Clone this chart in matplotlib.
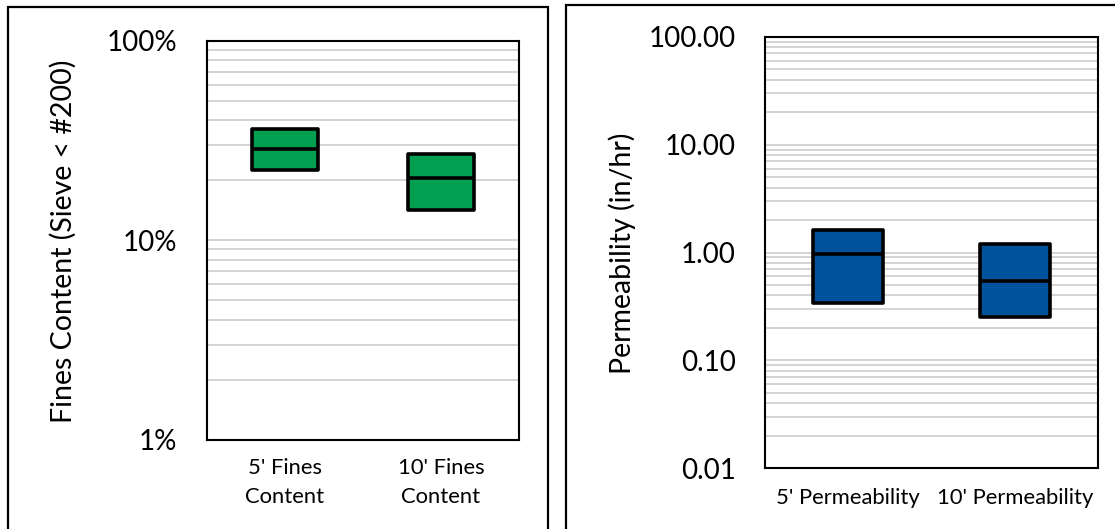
import matplotlib
matplotlib.use("Agg")
import matplotlib.pyplot as plt
from matplotlib.patches import Rectangle
from matplotlib.ticker import FixedLocator, LogLocator, NullFormatter

plt.rcParams['font.family'] = ['Lato', 'DejaVu Sans']

# Data
fines_categories = ["5' Fines\nContent", "10' Fines\nContent"]
fines_low = [22.4, 14.2]
fines_median = [28.7, 20.6]
fines_high = [36.0, 27.0]
fines_ticks = [1, 10, 100]
fines_ticklabels = ["1%", "10%", "100%"]

perm_categories = ["5' Permeability", "10' Permeability"]
perm_low = [0.343, 0.251]
perm_median = [0.963, 0.541]
perm_high = [1.62, 1.21]
perm_ticks = [0.01, 0.1, 1, 10, 100]
perm_ticklabels = ["0.01", "0.10", "1.00", "10.00", "100.00"]

W, H = 1115, 529
fig = plt.figure(figsize=(W / 100, H / 100), dpi=100)

def px_rect(x0, y0, x1, y1):
    return [x0 / W, 1 - y1 / H, (x1 - x0) / W, (y1 - y0) / H]

# panel frames
fig.patches.append(Rectangle((8.3 / W, 1 - 540 / H), (548.3 - 8.3) / W, (540 - 7.3) / H,
                             transform=fig.transFigure, fill=False, edgecolor='black', linewidth=1.6))
fig.patches.append(Rectangle((565.7 / W, 1 - 540 / H), (1130 - 565.7) / W, (540 - 4.7) / H,
                             transform=fig.transFigure, fill=False, edgecolor='black', linewidth=1.6))

def draw(ax, cats, low, med, high, ticks, ticklabels, ylim, color, ylabel, label_px, catsize, catpad):
    xs = list(range(len(cats)))
    ax.set_yscale('log')
    ax.set_ylim(*ylim)
    ax.set_xlim(-0.5, len(cats) - 0.5)
    ax.yaxis.set_major_locator(FixedLocator(ticks))
    ax.yaxis.set_minor_locator(LogLocator(base=10, subs=range(2, 10)))
    ax.yaxis.set_minor_formatter(NullFormatter())
    ax.set_yticklabels(ticklabels)
    ax.grid(True, which='both', axis='y', color='#d0d0d0', linewidth=1.3)
    ax.set_axisbelow(True)
    heights = [h - l for h, l in zip(high, low)]
    bw = 0.42
    ax.bar(xs, heights, bottom=low, width=bw, color=color, edgecolor='black',
           linewidth=2.6, joinstyle='round', zorder=3)
    ax.hlines(med, [x - bw / 2 for x in xs], [x + bw / 2 for x in xs], colors='black',
              linewidth=2.6, zorder=4)
    ax.set_xticks(xs)
    ax.set_xticklabels(cats, fontsize=catsize, linespacing=1.55)
    ax.tick_params(axis='x', length=0, pad=catpad)
    ax.tick_params(axis='y', which='both', length=0, pad=21, labelsize=20)
    for s in ax.spines.values():
        s.set_linewidth(1.5)
        s.set_color('black')
    fig.text(label_px[0] / W, 1 - label_px[1] / H, ylabel, rotation=90, fontsize=20.5,
             ha='center', va='center')

ax1 = fig.add_axes(px_rect(206.7, 40.7, 519, 439.7))
draw(ax1, fines_categories, fines_low, fines_median, fines_high, fines_ticks, fines_ticklabels,
     (1, 100), '#00A050', 'Fines Content (Sieve < #200)', (63, 241), 15.8, 13)

ax2 = fig.add_axes(px_rect(765, 36.7, 1098.3, 468.3))
draw(ax2, perm_categories, perm_low, perm_median, perm_high, perm_ticks, perm_ticklabels,
     (0.01, 100), '#00529B', 'Permeability (in/hr)', (622, 253), 15.8, 14)

fig.savefig('out.png', dpi=100)
